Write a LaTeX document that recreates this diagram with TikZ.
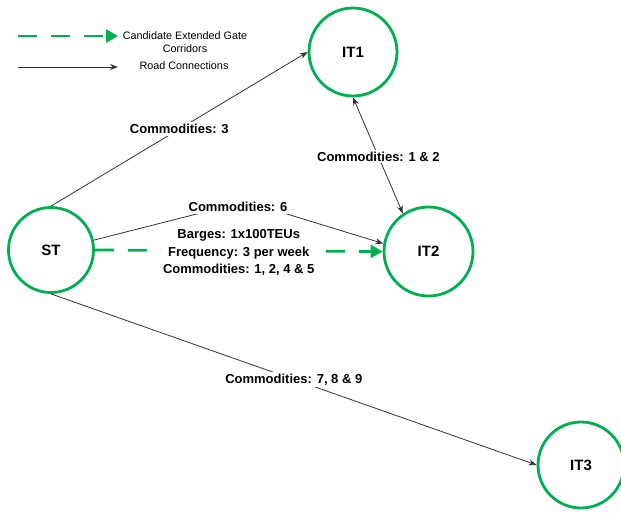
\documentclass[tikz,border=0pt]{standalone}
\usepackage{fontspec}
\setmainfont{Liberation Sans}
\usetikzlibrary{arrows.meta}
\definecolor{gategreen}{RGB}{0,176,80}

\begin{document}
\begin{tikzpicture}[x=1pt, y=-1pt,
  terminal/.style={circle, draw=gategreen, line width=2.8pt, minimum size=86pt, inner sep=0pt, font=\fontsize{15}{17}\selectfont\bfseries},
  road/.style={draw=black!80, line width=0.8pt, -{Stealth[length=8pt,width=6pt]}},
  gate/.style={draw=gategreen, line width=2.8pt, dash pattern=on 19pt off 14pt, -{Triangle[length=12pt,width=13pt]}},
  lbl/.style={fill=white, inner sep=2pt, font=\fontsize{13}{17.5}\selectfont\bfseries, align=center},
  legtext/.style={font=\fontsize{10.8}{12.5}\selectfont, align=center}]

\useasboundingbox (0,0) rectangle (621,512);

\node[terminal, minimum size=85pt] (st)  at (51,250)    {ST};
\node[terminal, minimum size=88pt] (it1) at (353,52)    {IT1};
\node[terminal, minimum size=89pt] (it2) at (428.5,251.5) {IT2};
\node[terminal, minimum size=86pt] (it3) at (581,465)   {IT3};


\draw[gate] (st.east) -- node[lbl, yshift=-2pt] (barges) {Barges: 1x100TEUs\\Frequency: 3 per week\\Commodities: 1, 2, 4 \& 5} (it2.west);


\draw[road] (st.north) -- node[lbl, pos=0.5] (c3) {Commodities: 3} (it1.west);
\draw[road, <->, >={Stealth[length=8pt,width=6pt]}] (it1.south) -- node[lbl, pos=0.51] (c12) {Commodities: 1 \& 2} (it2.124);
\draw[road] (st.south) -- node[lbl, pos=0.5] (c789) {Commodities: 7, 8 \& 9} (it3.west);

\coordinate (bend6) at (246,201.5);
\draw[road] (st.13) -- (bend6) -- (it2.170);
\node[lbl] (c6) at (238,207) {Commodities: 6};

% legend
\coordinate (ga) at (18,36);
\coordinate (gb) at (118,36);
\coordinate (ra) at (18,67);
\coordinate (rb) at (118,67);
\draw[gate] (ga) -- (gb);
\node[legtext] (gatetxt) at (185,42) {Candidate Extended Gate\\Corridors};
\draw[road] (ra) -- (rb);
\node[legtext] (roadtxt) at (184,66) {Road Connections};
\end{tikzpicture}
\end{document}
